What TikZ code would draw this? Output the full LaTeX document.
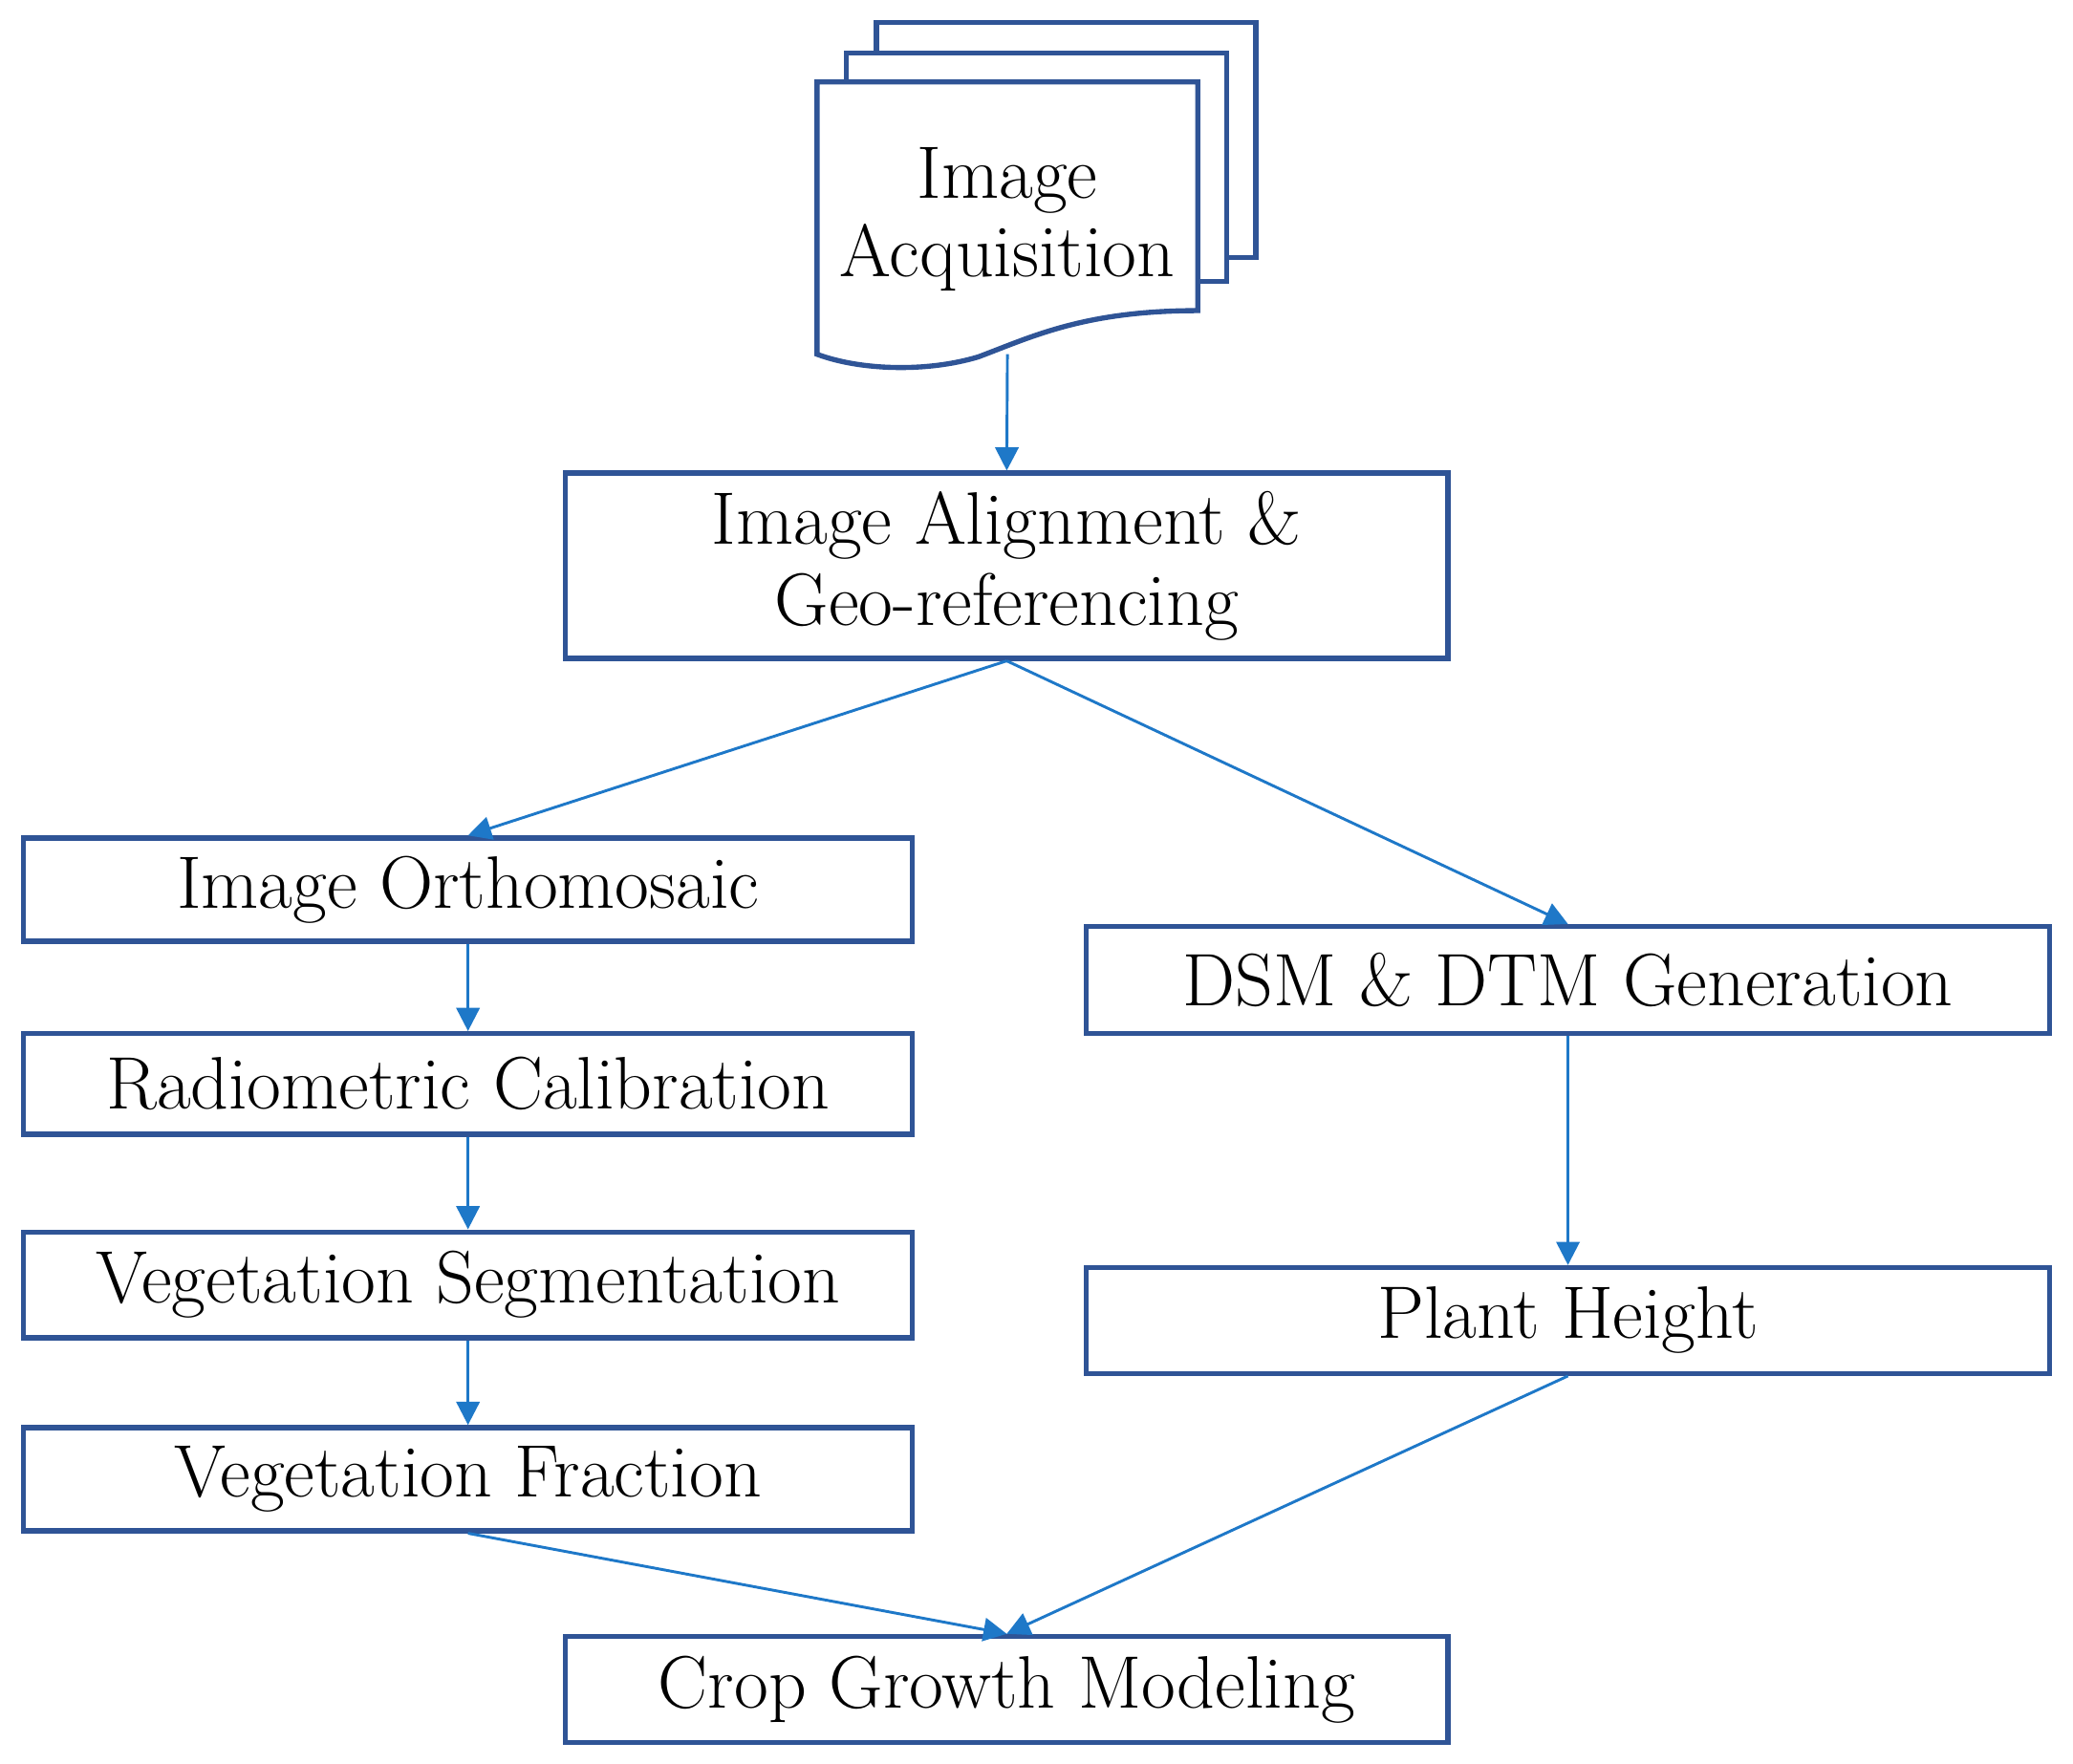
\documentclass[tikz,border=0pt]{standalone}
\usetikzlibrary{arrows.meta}
\definecolor{boxc}{RGB}{47,84,150}
\definecolor{arrc}{RGB}{30,120,200}
\begin{document}
\begin{tikzpicture}[x=0.01cm,y=-0.01cm,
  box/.style={draw=boxc,line width=1.1pt,fill=white,align=center,inner sep=0pt,font=\fontsize{16}{17.5}\selectfont},
  arr/.style={draw=arrc,line width=0.6pt,-{Triangle[length=5pt,width=5pt]}},
  page/.style={draw=boxc,line width=1.1pt,fill=white}]
\useasboundingbox (0,0) rectangle (1568,1334);
% document stack
\draw[page] (663,17) rectangle (950,195);
\draw[page] (640,40) rectangle (928,213);
\draw[page] (618,62) -- (906,62) -- (906,235) .. controls (820,235) and (780,255) .. (740,270) .. controls (700,282) and (650,280) .. (618,268) -- cycle;
\node[font=\fontsize{16}{17}\selectfont,align=center] (acq) at (762,166) {Image\\Acquisition};
\coordinate (docb) at (762,268);
\node[box,minimum width=6.67cm,minimum height=1.40cm] (align) at (761.5,428) {Image Alignment \&\\Geo-referencing};
\node[box,minimum width=6.72cm,minimum height=0.78cm] (ortho) at (354,673) {Image Orthomosaic};
\node[box,minimum width=6.72cm,minimum height=0.76cm] (radio) at (354,820) {Radiometric Calibration};
\node[box,minimum width=6.72cm,minimum height=0.80cm] (seg) at (354,972) {Vegetation Segmentation};
\node[box,minimum width=6.72cm,minimum height=0.78cm] (frac) at (354,1119) {Vegetation Fraction};
\node[box,minimum width=7.28cm,minimum height=0.81cm] (dsm) at (1186,741.5) {DSM \& DTM Generation};
\node[box,minimum width=7.28cm,minimum height=0.80cm] (plant) at (1186,999) {Plant Height};
\node[box,minimum width=6.67cm,minimum height=0.80cm] (crop) at (761.5,1278) {Crop Growth Modeling};
\draw[arr] (docb) -- (align.north);
\draw[arr] (align.south) -- (ortho.north);
\draw[arr] (align.south) -- (dsm.north);
\draw[arr] (ortho) -- (radio);
\draw[arr] (radio) -- (seg);
\draw[arr] (seg) -- (frac);
\draw[arr] (dsm) -- (plant);
\draw[arr] (frac.south) -- (crop.north);
\draw[arr] (plant.south) -- (crop.north);
\end{tikzpicture}
\end{document}
